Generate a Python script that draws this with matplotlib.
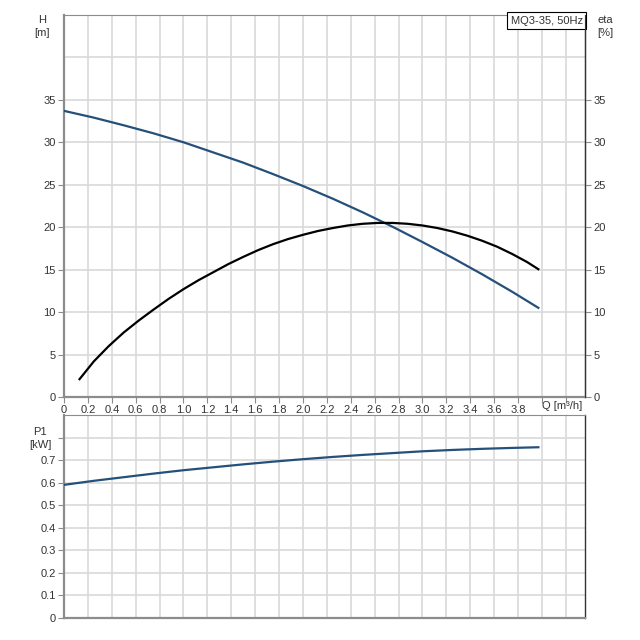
import matplotlib
matplotlib.use("Agg")
import matplotlib.pyplot as plt

plt.rcParams['font.family'] = ['Liberation Sans', 'DejaVu Sans']
plt.rcParams['font.size'] = 8

# values
q = [0.0, 0.25, 0.5, 0.75, 1.0, 1.25, 1.5, 1.75, 2.0, 2.25, 2.5, 2.75, 3.0, 3.25, 3.5, 3.75, 3.97]
head = [33.7, 32.9, 32.0, 31.05, 30.0, 28.8, 27.6, 26.25, 24.85, 23.35, 21.75, 20.05, 18.25, 16.4, 14.45, 12.4, 10.5]
p1 = [0.590, 0.608, 0.624, 0.640, 0.655, 0.668, 0.681, 0.693, 0.704, 0.714, 0.723, 0.731, 0.739, 0.745, 0.750, 0.754, 0.757]
q_eta = [0.13, 0.25, 0.375, 0.5, 0.625, 0.75, 0.875, 1.0, 1.125, 1.25, 1.375, 1.5, 1.625, 1.75, 1.875, 2.0,
         2.125, 2.25, 2.375, 2.5, 2.625, 2.75, 2.875, 3.0, 3.125, 3.25, 3.375, 3.5, 3.625, 3.75, 3.875, 3.97]
eta = [2.1, 4.2, 6.0, 7.6, 9.0, 10.3, 11.55, 12.7, 13.75, 14.7, 15.65, 16.5, 17.3, 18.0, 18.6, 19.1,
       19.55, 19.9, 20.2, 20.4, 20.5, 20.5, 20.4, 20.2, 19.9, 19.5, 19.0, 18.4, 17.7, 16.85, 15.9, 15.05]

x_ticks = [round(0.2 * i, 1) for i in range(22)]
x_labels = ['0'] + ['%.1f' % v for v in x_ticks[1:20]]
h_ticks = [0, 5, 10, 15, 20, 25, 30, 35]
p_ticks = [0, 0.1, 0.2, 0.3, 0.4, 0.5, 0.6, 0.7, 0.8]

blue = '#25507a'
grid_c = '#d9d9d9'
spine_c = '#8c8c8c'
txt_c = '#333333'

fig = plt.figure(figsize=(6.4, 6.4), dpi=100)
ax = fig.add_axes([0.1, 0.3797, 0.814, 0.597])
ax2 = ax.twinx()
axp = fig.add_axes([0.1, 0.0348, 0.814, 0.3167])


def style(a, right_dark=True):
    a.set_xlim(0, 4.36)
    a.set_xticks(x_ticks)
    a.grid(True, which='both', color=grid_c, linewidth=1.2)
    a.set_axisbelow(True)
    for s in ['left', 'bottom', 'top']:
        a.spines[s].set_color(spine_c)
    a.spines['left'].set_linewidth(1.6)
    a.spines['bottom'].set_linewidth(1.6)
    a.spines['top'].set_linewidth(0.8)
    a.spines['right'].set_color('#333333' if right_dark else spine_c)
    a.spines['right'].set_linewidth(1.0)
    a.tick_params(axis='both', colors=spine_c, labelcolor=txt_c, length=4, width=0.8, pad=2)
    a.tick_params(which='minor', length=0)


style(ax)
ax.set_ylim(0, 45)
ax.set_yticks(h_ticks)
ax.set_yticks([40], minor=True)
ax.set_xticklabels(x_labels + ['', ''])
ax.plot(q, head, color=blue, linewidth=1.6, zorder=3)

ax2.set_ylim(0, 45)
ax2.set_yticks(h_ticks)
ax2.tick_params(axis='y', colors=spine_c, labelcolor=txt_c, length=4, width=0.8, pad=2)
for s in ['left', 'bottom', 'top']:
    ax2.spines[s].set_visible(False)
ax2.spines['right'].set_color('#333333')
ax2.plot(q_eta, eta, color='black', linewidth=1.6, zorder=3)

style(axp)
axp.set_ylim(0, 0.9)
axp.set_yticks(p_ticks)
axp.set_yticklabels(['0'] + ['%.1f' % v for v in p_ticks[1:-1]] + [''])
axp.set_xticklabels([])
axp.tick_params(axis='x', length=0)
axp.plot(q, p1, color=blue, linewidth=1.6, zorder=3)

# axis captions
fig.text(42 / 640, 1 - 20 / 640, 'H', ha='center', va='center', color=txt_c)
fig.text(42 / 640, 1 - 33 / 640, '[m]', ha='center', va='center', color=txt_c)
fig.text(605 / 640, 1 - 20 / 640, 'eta', ha='center', va='center', color=txt_c)
fig.text(605 / 640, 1 - 33 / 640, '[%]', ha='center', va='center', color=txt_c)
fig.text(40 / 640, 1 - 432 / 640, 'P1', ha='center', va='center', color=txt_c)
fig.text(40 / 640, 1 - 445 / 640, '[kW]', ha='center', va='center', color=txt_c)
fig.text(562 / 640, 1 - 406 / 640, 'Q [m³/h]', ha='center', va='center', color=txt_c)

ax.text(0.996, 0.998, 'MQ3-35, 50Hz', transform=ax.transAxes, ha='right', va='top',
        color=txt_c, zorder=5,
        bbox=dict(boxstyle='square,pad=0.3', facecolor='white', edgecolor='black', linewidth=0.8))

fig.savefig('out.png', dpi=100)
